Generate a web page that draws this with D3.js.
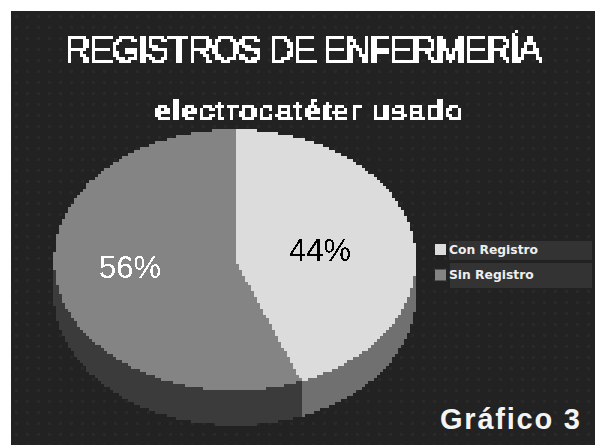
<!DOCTYPE html>
<html>
<head>
<meta charset="utf-8">
<script src="https://cdn.jsdelivr.net/npm/d3@7"></script>
<style>
  html, body { margin: 0; padding: 0; background: #fff; }
  svg { display: block; }
</style>
</head>
<body>
<svg></svg>
<script>
const categories = ['Con Registro', 'Sin Registro'];
const values = [44, 56];
const labels = ['44%', '56%'];
const topColors = ['#dcdcdc', '#848484'];
const wallColors = ['#707070', '#3a3a3a'];
const labelColors = ['#000', '#fff'];

const WIDTH = 595, HEIGHT = 445;
const CX = 235, CY = 260, RX = 181, RY = 130.5, DEPTH = 35;

const svg = d3.select('svg').attr('width', WIDTH).attr('height', HEIGHT);
const defs = svg.append('defs');

// dotted background
const pat = defs.append('pattern').attr('id', 'dots')
    .attr('width', 11).attr('height', 11).attr('patternUnits', 'userSpaceOnUse');
pat.append('rect').attr('width', 11).attr('height', 11).attr('fill', '#222');
pat.append('rect').attr('x', 4).attr('y', 4).attr('width', 3).attr('height', 3).attr('fill', '#292929');

// blocky edges, 3px cells sampled from the source
function pixelFilter(id, threshold) {
    const f = defs.append('filter').attr('id', id)
        .attr('filterUnits', 'userSpaceOnUse')
        .attr('x', 0).attr('y', 0).attr('width', WIDTH).attr('height', HEIGHT);
    f.append('feFlood').attr('x', 0).attr('y', 1).attr('width', 1).attr('height', 1);
    f.append('feComposite').attr('width', 3).attr('height', 3);
    f.append('feTile').attr('result', 'a');
    f.append('feComposite').attr('in', 'SourceGraphic').attr('in2', 'a').attr('operator', 'in');
    f.append('feMorphology').attr('operator', 'dilate').attr('radius', 1);
    if (threshold) {
        f.append('feComponentTransfer').append('feFuncA').attr('type', 'discrete').attr('tableValues', '0 1');
    }
}
pixelFilter('pixelate', false);
pixelFilter('pixelText', true);

// hard, aliased text
const hard = defs.append('filter').attr('id', 'hard');
hard.append('feComponentTransfer').append('feFuncA').attr('type', 'discrete').attr('tableValues', '0 1');

svg.append('rect').attr('x', 11).attr('y', 11).attr('width', WIDTH - 11).attr('height', HEIGHT - 11)
    .attr('fill', 'url(#dots)');

/* ************** PIE ************** */
const pie = d3.pie().sort(null).value(d => d);
const slices = pie(values);
const arc = d3.arc().innerRadius(0).outerRadius(RX);

const chart = svg.append('g').attr('filter', 'url(#pixelate)').attr('shape-rendering', 'crispEdges');

// side wall is the same pie stacked from the bottom up
d3.range(DEPTH, 0, -1).forEach(dy => {
    chart.append('g')
        .attr('transform', `translate(${CX},${CY + dy}) scale(1,${RY / RX})`)
        .selectAll('path').data(slices).join('path')
        .attr('d', arc)
        .attr('fill', (d, i) => wallColors[i]);
});

chart.append('g')
    .attr('transform', `translate(${CX},${CY}) scale(1,${RY / RX})`)
    .selectAll('path').data(slices).join('path')
    .attr('d', arc)
    .attr('fill', (d, i) => topColors[i]);

/* ************** TEXT ************** */
const FONT = '"Liberation Sans", Arial, sans-serif';

svg.append('text').attr('x', 65).attr('y', 62)
    .attr('filter', 'url(#pixelText)')
    .attr('font-family', FONT).attr('fill', '#fff')
    .attr('stroke', '#fff').attr('stroke-width', 1)
    .attr('font-size', 36)
    .attr('textLength', 477).attr('lengthAdjust', 'spacing')
    .text('REGISTROS DE ENFERMERÍA');

svg.append('text').attr('x', 154).attr('y', 121)
    .attr('filter', 'url(#pixelText)')
    .attr('font-family', FONT).attr('fill', '#fff')
    .attr('font-size', 30).attr('font-weight', 'bold')
    .attr('textLength', 309).attr('lengthAdjust', 'spacing')
    .text('electrocatéter usado');

const pctX = [320, 130], pctY = [261, 278];
svg.append('g').attr('filter', 'url(#hard)')
    .selectAll('text').data(labels).join('text')
    .attr('x', (d, i) => pctX[i]).attr('y', (d, i) => pctY[i])
    .attr('text-anchor', 'middle')
    .attr('font-family', FONT)
    .attr('font-size', 31)
    .attr('fill', (d, i) => labelColors[i])
    .text(d => d);

/* ************** LEGEND ************** */
const legendY = d3.scalePoint().domain(categories).range([249.5, 275]);
const bandTop = [241, 263], bandH = [19, 25], bandX = [449, 450];

const legend = svg.append('g').selectAll('g').data(categories).join('g');
legend.append('rect')
    .attr('x', (d, i) => bandX[i]).attr('y', (d, i) => bandTop[i])
    .attr('width', (d, i) => 592 - bandX[i]).attr('height', (d, i) => bandH[i])
    .attr('fill', '#333');
legend.append('rect')
    .attr('x', 435).attr('y', d => legendY(d) - 5.5)
    .attr('width', 11).attr('height', 11)
    .attr('fill', (d, i) => topColors[i]);
legend.append('text')
    .attr('x', 449).attr('y', d => legendY(d) + 4)
    .attr('font-family', '"DejaVu Sans", sans-serif')
    .attr('font-size', 12.3).attr('font-weight', 'bold')
    .attr('fill', '#eee')
    .text(d => d);

svg.append('text').attr('x', 440).attr('y', 429)
    .attr('font-family', FONT)
    .attr('font-size', 29).attr('font-weight', 'bold')
    .attr('fill', '#f4f4f4')
    .attr('textLength', 140).attr('lengthAdjust', 'spacing')
    .text('Gráfico 3');
</script>
</body>
</html>
